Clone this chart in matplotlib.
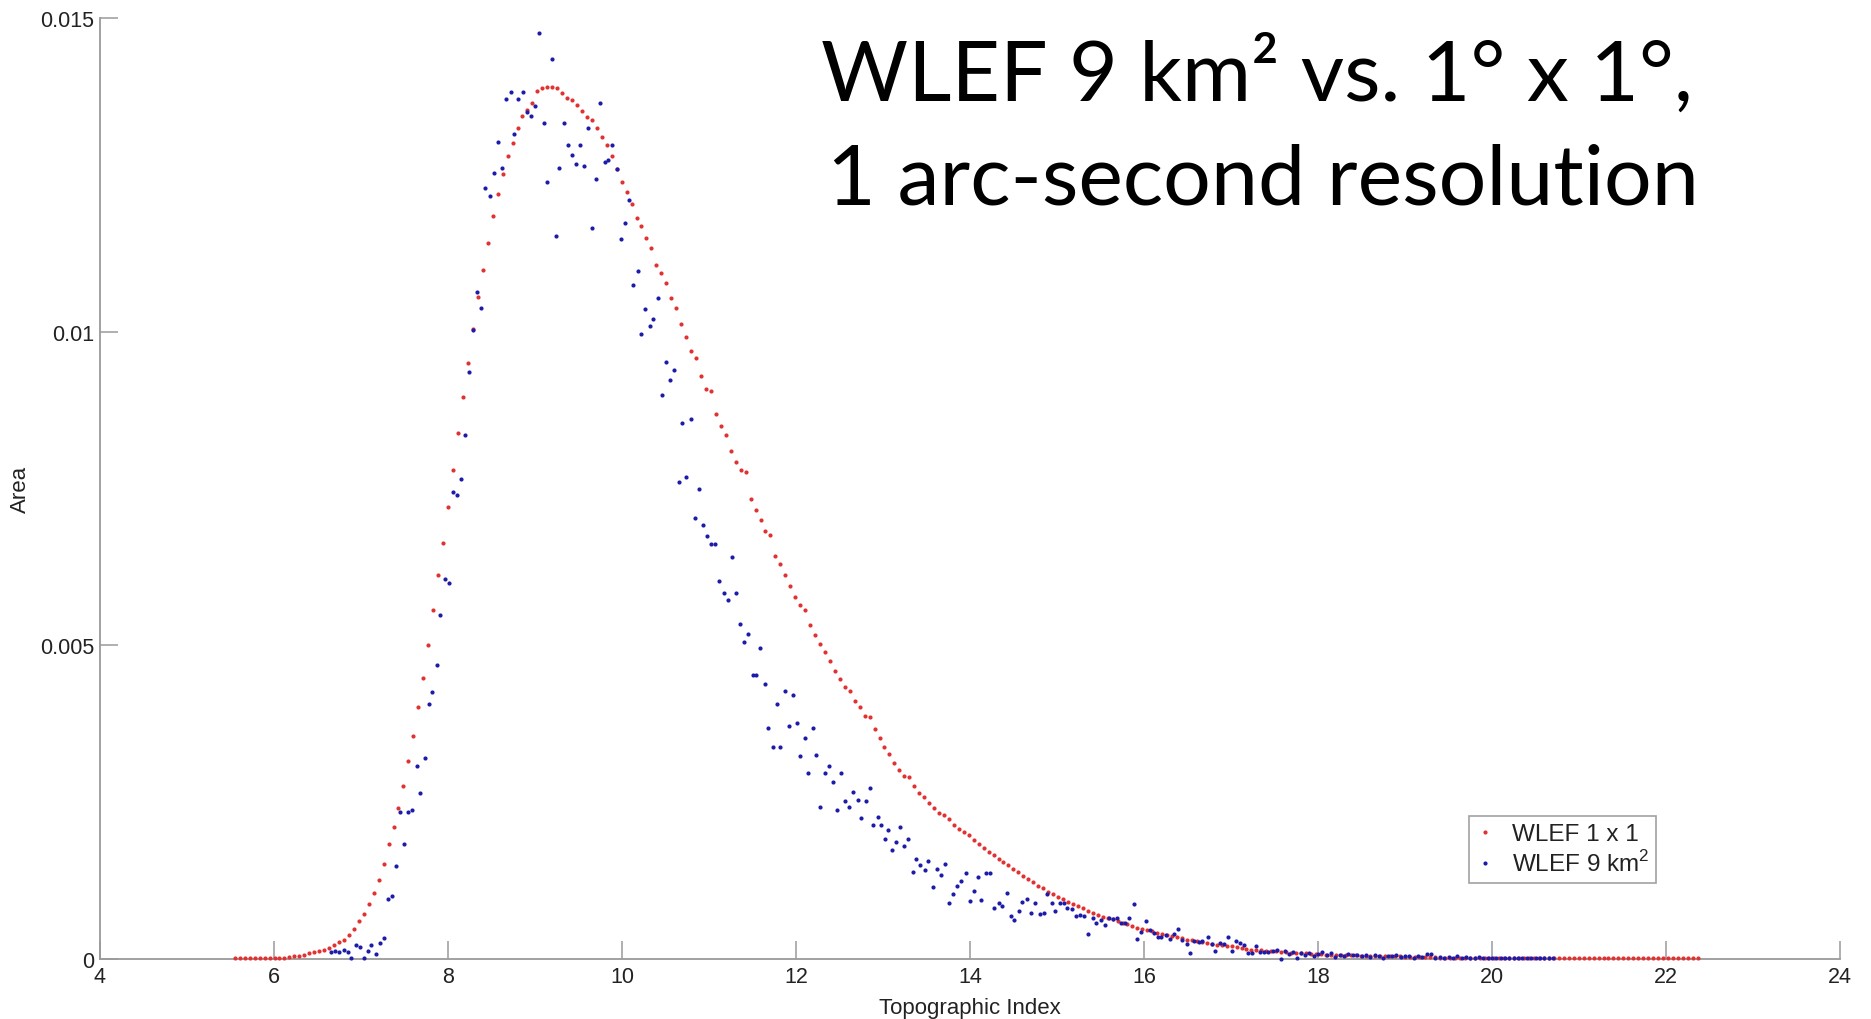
import numpy as np
import matplotlib
matplotlib.use("Agg")
import matplotlib.pyplot as plt

plt.rcParams['font.family'] = ['Liberation Sans', 'DejaVu Sans']
plt.rcParams['mathtext.fontset'] = 'custom'
plt.rcParams['mathtext.rm'] = 'Liberation Sans'

# ====== Data ======
# WLEF 1 x 1 : regular bins, start + step, values in 1e-5 area units
red_start = 5.55
red_step = 0.057
red_area_e5 = [
    1, 1, 1, 1, 1, 1, 1, 1, 1, 2, 2, 3, 4, 5, 7, 9, 11, 13, 15, 18,
    23, 27, 31, 38, 48, 61, 71, 88, 105, 126, 152, 184, 210, 241, 275, 315, 356, 402, 448, 500,
    557, 612, 663, 720, 780, 838, 896, 950, 1005, 1056, 1098, 1142, 1184, 1220, 1252, 1280, 1300, 1325, 1343, 1354,
    1364, 1383, 1389, 1390, 1390, 1389, 1380, 1373, 1369, 1361, 1352, 1342, 1338, 1324, 1310, 1297, 1280, 1260, 1238, 1223,
    1204, 1181, 1168, 1150, 1134, 1107, 1093, 1078, 1054, 1037, 1012, 991, 969, 958, 929, 908, 906, 869, 849, 836,
    810, 792, 779, 776, 733, 716, 700, 682, 676, 643, 629, 612, 595, 577, 565, 556, 532, 517, 502, 489,
    475, 459, 447, 433, 427, 411, 401, 388, 386, 366, 352, 338, 326, 312, 301, 292, 290, 275, 265, 258,
    249, 240, 233, 229, 223, 214, 207, 202, 198, 190, 183, 177, 170, 166, 160, 155, 150, 144, 138, 132,
    128, 122, 117, 113, 107, 103, 99, 96, 91, 87, 85, 81, 77, 73, 70, 67, 65, 63, 60, 57,
    55, 53, 50, 48, 46, 44, 42, 40, 38, 37, 35, 33, 31, 30, 28, 27, 25, 24, 23, 22,
    21, 20, 19, 18, 16, 15, 14, 14, 13, 12, 12, 11, 11, 10, 10, 9, 9, 8, 8, 8,
    7, 7, 7, 6, 6, 6, 6, 5, 5, 5, 5, 4, 4, 4, 4, 4, 3, 3, 3, 3,
    3, 3, 3, 2, 2, 2, 2, 2, 2, 2, 2, 2, 2, 2, 2, 2, 2, 2, 2, 2,
    2, 2, 2, 2, 2, 2, 2, 2, 1, 2, 2, 2, 2, 1, 1, 2, 2, 2, 2, 2,
    2, 1, 2, 2, 2, 2, 1, 2, 2, 2, 1, 2, 2, 1, 2, 2,
]

# WLEF 9 km2 : bin centres and values in 1e-5 area units
blue_x = [
    6.65, 6.70, 6.75, 6.80, 6.85, 6.89, 6.94, 6.99, 7.03, 7.08, 7.12, 7.17, 7.22, 7.27, 7.31, 7.36,
    7.40, 7.45, 7.49, 7.54, 7.59, 7.64, 7.68, 7.73, 7.78, 7.82, 7.87, 7.91, 7.96, 8.01, 8.06, 8.10,
    8.15, 8.19, 8.24, 8.29, 8.33, 8.38, 8.43, 8.48, 8.53, 8.58, 8.62, 8.67, 8.72, 8.76, 8.81, 8.86,
    8.91, 8.95, 9.00, 9.05, 9.10, 9.14, 9.19, 9.24, 9.28, 9.33, 9.38, 9.42, 9.47, 9.52, 9.56, 9.61,
    9.66, 9.70, 9.75, 9.80, 9.84, 9.89, 9.94, 9.99, 10.04, 10.08, 10.13, 10.18, 10.22, 10.27, 10.32, 10.36,
    10.41, 10.46, 10.51, 10.55, 10.60, 10.65, 10.69, 10.74, 10.79, 10.84, 10.88, 10.93, 10.98, 11.02, 11.07, 11.12,
    11.17, 11.22, 11.27, 11.31, 11.36, 11.40, 11.45, 11.50, 11.54, 11.59, 11.64, 11.68, 11.73, 11.78, 11.82, 11.87,
    11.92, 11.96, 12.01, 12.05, 12.10, 12.14, 12.19, 12.23, 12.28, 12.33, 12.38, 12.42, 12.47, 12.52, 12.56, 12.61,
    12.66, 12.71, 12.75, 12.80, 12.85, 12.89, 12.94, 12.98, 13.02, 13.06, 13.10, 13.15, 13.20, 13.24, 13.29, 13.34,
    13.38, 13.43, 13.48, 13.52, 13.57, 13.62, 13.67, 13.71, 13.76, 13.81, 13.85, 13.90, 13.95, 14.00, 14.05, 14.09,
    14.13, 14.18, 14.23, 14.28, 14.33, 14.37, 14.42, 14.47, 14.51, 14.56, 14.60, 14.65, 14.70, 14.75, 14.80, 14.85,
    14.89, 14.94, 14.98, 15.03, 15.08, 15.12, 15.17, 15.22, 15.27, 15.31, 15.36, 15.41, 15.45, 15.50, 15.55, 15.60,
    15.64, 15.69, 15.74, 15.78, 15.83, 15.88, 15.92, 15.97, 16.02, 16.07, 16.11, 16.16, 16.20, 16.25, 16.30, 16.35,
    16.39, 16.44, 16.49, 16.53, 16.58, 16.63, 16.67, 16.73, 16.78, 16.82, 16.87, 16.92, 16.97, 17.01, 17.06, 17.10,
    17.15, 17.20, 17.24, 17.29, 17.33, 17.38, 17.43, 17.48, 17.53, 17.58, 17.62, 17.67, 17.71, 17.76,
    17.80, 17.85, 17.90, 17.95, 18.00, 18.05, 18.10, 18.15, 18.20, 18.25, 18.30, 18.35, 18.40, 18.45, 18.50, 18.55,
    18.60, 18.65, 18.70, 18.75, 18.80, 18.85, 18.90, 18.95, 19.00, 19.05, 19.10, 19.15, 19.20, 19.25, 19.30, 19.35,
    19.40, 19.45, 19.50, 19.55, 19.60, 19.65, 19.70, 19.75, 19.80, 19.85, 19.90, 19.95, 20.00, 20.05, 20.10, 20.15,
    20.20, 20.25, 20.30, 20.35, 20.40, 20.45, 20.50, 20.55, 20.60, 20.65, 20.70,
]
blue_area_e5 = [
    11, 13, 11, 14, 11, 2, 23, 19, 2, 13, 22, 8, 25, 33, 95, 100,
    148, 234, 183, 235, 237, 308, 265, 321, 407, 425, 468, 549, 606, 600, 745, 740,
    765, 835, 935, 1002, 1064, 1038, 1229, 1216, 1253, 1302, 1261, 1371, 1382, 1315, 1371, 1382,
    1350, 1343, 1359, 1476, 1333, 1238, 1435, 1153, 1261, 1333, 1297, 1282, 1268, 1297, 1264, 1325,
    1166, 1243, 1365, 1271, 1274, 1297, 1260, 1148, 1173, 1210, 1074, 1097, 997, 1036, 1009, 1020,
    1053, 899, 951, 923, 939, 761, 854, 769, 860, 703, 749, 692, 675, 661, 661, 603,
    584, 573, 641, 584, 534, 506, 518, 453, 452, 496, 438, 368, 338, 407, 338, 427,
    371, 421, 376, 323, 352, 296, 369, 325, 242, 296, 307, 282, 238, 296, 252, 242,
    266, 254, 224, 252, 273, 214, 227, 214, 191, 206, 173, 186, 211, 180, 191, 139,
    159, 150, 142, 157, 114, 143, 134, 151, 89, 103, 117, 125, 137, 92, 108, 131,
    94, 137, 137, 81, 89, 85, 105, 68, 62, 76, 91, 95, 73, 89, 71, 73,
    103, 89, 76, 89, 89, 82, 80, 68, 70, 68, 40, 65, 57, 62, 54, 66,
    64, 65, 57, 57, 65, 88, 32, 43, 60, 47, 41, 35, 35, 39, 32, 40,
    48, 31, 24, 10, 29, 27, 28, 35, 24, 12, 25, 24, 35, 12, 29, 26,
    23, 10, 10, 20, 11, 11, 11, 13, 15, 0, 12, 8, 11, 1,
    9, 6, 10, 4, 8, 11, 6, 9, 3, 7, 5, 8, 6, 6, 4, 7,
    3, 6, 5, 2, 5, 4, 6, 3, 4, 5, 2, 4, 3, 8, 8, 2,
    3, 1, 3, 2, 4, 2, 3, 1, 2, 3, 1, 2, 2, 1, 1, 2,
    1, 1, 1, 1, 1, 1, 1, 1, 1, 1, 2,
]

red_x = red_start + red_step * np.arange(len(red_area_e5))
red_y = np.array(red_area_e5) * 1e-5
blue_y = np.array(blue_area_e5) * 1e-5

# ====== Plot ======
W, H = 1871, 1020
fig = plt.figure(figsize=(W / 100, H / 100), dpi=100)
ax = fig.add_axes([100 / W, 60 / H, 1740 / W, 941 / H])

ax.plot(red_x, red_y, 'o', color='#e03232', markersize=3.0, markeredgewidth=0,
        label='WLEF 1 x 1', clip_on=False, zorder=3)
ax.plot(blue_x, blue_y, 'o', color='#1c1ca8', markersize=3.0, markeredgewidth=0,
        label='WLEF 9 km$^{2}$', clip_on=False, zorder=4)

ax.set_xlim(4, 24)
ax.set_ylim(0, 0.015)
ax.set_xticks(range(4, 25, 2))
ax.set_yticks([0, 0.005, 0.01, 0.015])
ax.set_yticklabels(['0', '0.005', '0.01', '0.015'])

for side in ['top', 'right']:
    ax.spines[side].set_visible(False)
for side in ['left', 'bottom']:
    ax.spines[side].set_color('#9a9a9a')
    ax.spines[side].set_linewidth(1.3)
ax.tick_params(direction='in', length=13, width=1.1, color='#9a9a9a',
               labelsize=15.5, labelcolor='#222222')
ax.tick_params(axis='x', pad=5)
ax.tick_params(axis='y', pad=4)

ax.set_xlabel('Topographic Index', fontsize=16, color='#222222', labelpad=7.5)
ax.set_ylabel('Area', fontsize=16, color='#222222', labelpad=7)

leg = ax.legend(loc='upper left', bbox_to_anchor=(1469 / W, 1 - 817 / H),
                bbox_transform=fig.transFigure, fontsize=17.5, frameon=True,
                fancybox=False, handlelength=0.7, handletextpad=0.75,
                borderpad=0.3, labelspacing=0.2, borderaxespad=0)
leg.get_frame().set_edgecolor('#8a8a8a')
leg.get_frame().set_linewidth(1.2)
for t in leg.get_texts():
    t.set_color('#222222')

# big slide-style title in two lines, fitted to the widths seen in the picture
lines = [('WLEF 9 km² vs. 1° x 1°,', 821, 101, 873),
         ('1 arc-second resolution', 827, 205, 873)]
fig.canvas.draw()
renderer = fig.canvas.get_renderer()
for text, x0, base, width in lines:
    t = fig.text(x0 / W, 1 - base / H, text, fontsize=60, family=['Lato', 'DejaVu Sans'],
                 color='black', ha='left', va='baseline')
    bb = t.get_window_extent(renderer)
    t.set_fontsize(60 * width / bb.width)

fig.savefig('out.png', dpi=100)
